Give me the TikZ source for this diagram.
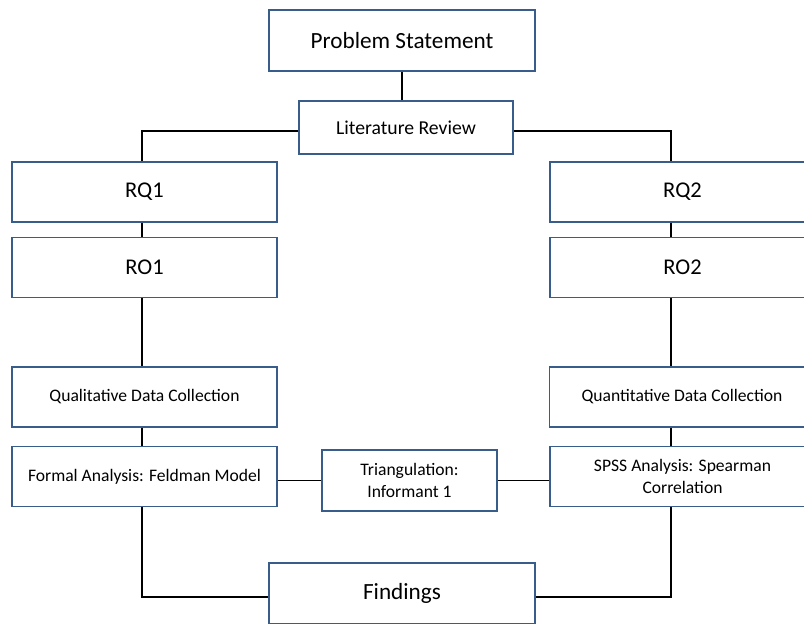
\documentclass[tikz,border=0pt]{standalone}
\usepackage{fontspec}
\setmainfont{Carlito}
\definecolor{boxline}{RGB}{56,93,138}
\tikzset{
  box/.style={draw=boxline, line width=1pt, fill=white, align=center, inner sep=2pt},
  sidebox/.style={box, minimum width=6.625cm, minimum height=1.5cm},
  link/.style={draw=black, line width=1.4pt},
}
\begin{document}
\begin{tikzpicture}[x=0.025cm, y=-0.025cm]
\useasboundingbox (0,0) rectangle (804,624);
\coordinate (lx) at (142,0);
\coordinate (rx) at (671,0);
% top of the chart
\node [box, minimum width=6.65cm, minimum height=1.525cm,
	font=\fontsize{16.5}{19}\selectfont] (problem) at (402,40.5) {Problem Statement};
\node [box, minimum width=5.35cm, minimum height=1.325cm,
	font=\fontsize{14}{17}\selectfont] (litrev) at (406,127.5) {Literature Review};
% left branch
\node [sidebox, font=\fontsize{16}{19}\selectfont] (rq1) at (144.5,192) {RQ1};
\node [sidebox, font=\fontsize{16}{19}\selectfont] (ro1) at (144.5,267.5) {RO1};
\node [sidebox, font=\fontsize{12.5}{15}\selectfont] (qual) at (144.5,397) {Qualitative Data Collection};
\node [sidebox, font=\fontsize{12.5}{15}\selectfont] (formal) at (144.5,476.5) {Formal Analysis: Feldman Model};
% right branch
\node [sidebox, font=\fontsize{16}{19}\selectfont] (rq2) at (682.5,192) {RQ2};
\node [sidebox, font=\fontsize{16}{19}\selectfont] (ro2) at (682.5,267.5) {RO2};
\node [sidebox, font=\fontsize{12.5}{15}\selectfont] (quant) at (682,397) {Quantitative Data Collection};
\node [sidebox, font=\fontsize{12.5}{15}\selectfont] (spss) at (682.5,476.5) {SPSS Analysis: Spearman\\Correlation};
% middle and bottom
\node [box, minimum width=4.375cm, minimum height=1.525cm,
	font=\fontsize{12.5}{16}\selectfont] (tri) at (409.5,480.5) {Triangulation:\\Informant 1};
\node [box, minimum width=6.65cm, minimum height=1.525cm,
	font=\fontsize{16.5}{19}\selectfont] (findings) at (402,593.5) {Findings};
% connectors
\draw [link] (problem.south) -- (problem.south |- litrev.north);
\draw [link] ([yshift=-0.0875cm]litrev.west) -| (rq1.north -| lx);
\draw [link] ([yshift=-0.0875cm]litrev.east) -| (rq2.north -| rx);
\draw [link] (rq1.south -| lx) -- (ro1.north -| lx);
\draw [link] (ro1.south -| lx) -- (qual.north -| lx);
\draw [link] (qual.south -| lx) -- (formal.north -| lx);
\draw [link] (rq2.south -| rx) -- (ro2.north -| rx);
\draw [link] (ro2.south -| rx) -- (quant.north -| rx);
\draw [link] (quant.south -| rx) -- (spss.north -| rx);
\draw [link] (formal.east |- tri.west) -- (tri.west);
\draw [link] (tri.east) -- (tri.east -| spss.west);
\draw [link] (formal.south -| lx) |- ([yshift=-0.0875cm]findings.west);
\draw [link] (spss.south -| rx) |- ([yshift=-0.0875cm]findings.east);
\end{tikzpicture}
\end{document}
